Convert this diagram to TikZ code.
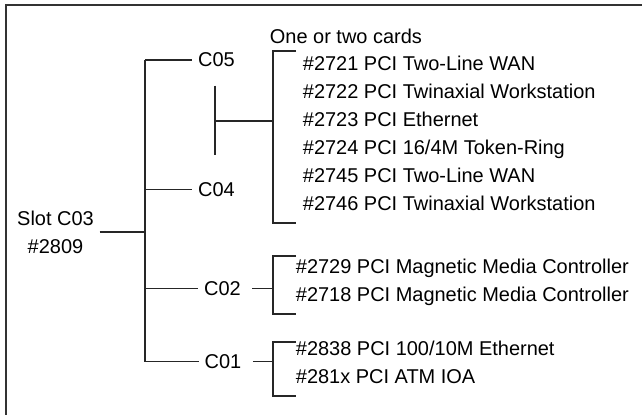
\documentclass[tikz,border=0pt]{standalone}
\usepackage{fontspec}
\setmainfont{Liberation Sans}
\usetikzlibrary{calc}
\tikzset{wire/.style={line width=1.1pt, black!85}}
\begin{document}
\begin{tikzpicture}[x=0.025cm, y=-0.025cm, font=\fontsize{14.2}{20}\selectfont, inner sep=4pt]
    \useasboundingbox (0,0) rectangle (642,415);
    % Frame (only top and left edge are in view)
    \draw[line width=1.5pt, black!80] (642,5) -- (6,5) -- (6,415);
    % Slot and its connectors
    \node[align=center] (slot) at (55.5,232) {Slot C03\\\#2809};
    \node (c05) at (216.5,60) {C05};
    \node (c04) at (216.5,189.5) {C04};
    \node (c02) at (222.5,288.5) {C02};
    \node (c01) at (223,361.5) {C01};
    % Card groups
    \node[anchor=west] (hdr) at (264,36) {One or two cards};
    \node[anchor=west, align=left] (grpa) at (297,133.5)
      {\#2721 PCI Two-Line WAN\\\#2722 PCI Twinaxial Workstation\\\#2723 PCI Ethernet\\%
       \#2724 PCI 16/4M Token-Ring\\\#2745 PCI Two-Line WAN\\\#2746 PCI Twinaxial Workstation};
    \node[anchor=west, align=left] (grpb) at (290,282.5)
      {\#2729 PCI Magnetic Media Controller\\\#2718 PCI Magnetic Media Controller};
    \node[anchor=west, align=left] (grpc) at (290,362.5)
      {\#2838 PCI 100/10M Ethernet\\\#281x PCI ATM IOA};
    % Trunk
    \coordinate (tr) at (145,0);
    \coordinate (jn) at (215,121);
    \coordinate (br) at (273,0);
    \draw[wire] (c05.west -| tr) -- (c01.west -| tr);
    \foreach \n in {c05,c04,c02,c01}
      \draw[wire] (\n.west -| tr) -- (\n.west);
    \draw[wire] (slot.east) -- (slot.east -| tr);
    % C05/C04 pair to the first group
    \draw[wire, shorten <=9pt, shorten >=15pt] (c05.south -| jn) -- (c04.north -| jn);
    \draw[wire] (jn) -- (jn -| br);
    \draw[wire, shorten <=4pt] (c02.east) -- (c02.east -| br);
    \draw[wire, shorten <=4pt] (c01.east) -- (c01.east -| br);
    % Brackets
    \draw[wire] (296,51) -| (273,223) -- (296,223);
    \draw[wire] (296,256) -| (273,314) -- (296,314);
    \draw[wire] (296,342) -| (273,396) -- (296,396);
  \end{tikzpicture}
\end{document}
